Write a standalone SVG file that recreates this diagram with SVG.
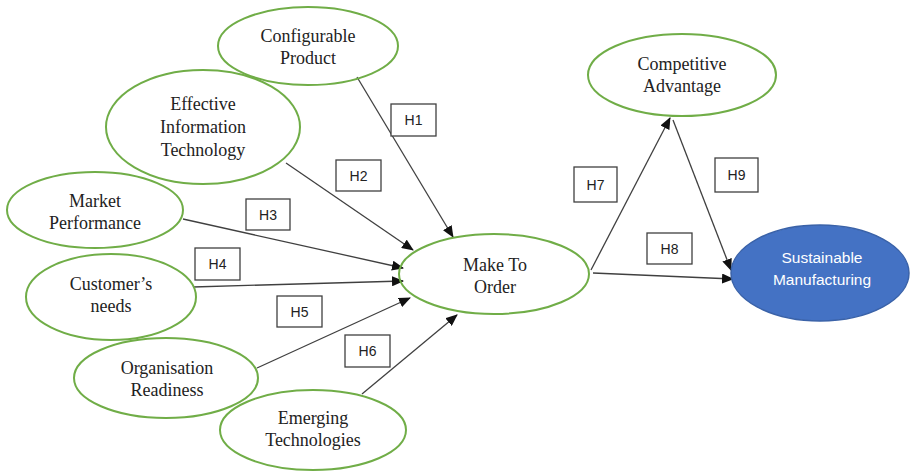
<svg xmlns="http://www.w3.org/2000/svg" width="910" height="471" viewBox="0 0 910 471">
<style>
.n ellipse{fill:none;stroke:#70AD47;stroke-width:2}
.n text{font-family:"Liberation Serif","Times New Roman",serif;font-size:18px;fill:#222;text-anchor:middle}
#sm ellipse{fill:#4472C4;stroke:#3A62A8;stroke-width:1.5}
#sm text{font-family:"Liberation Sans",Arial,sans-serif;font-size:15.5px;fill:#fff;text-anchor:middle}
.c line{stroke:#404040;stroke-width:1.3;marker-end:url(#ah)}
.lb rect{fill:#fff;stroke:#404040;stroke-width:1.3}
.lb text{font-family:"Liberation Sans",Arial,sans-serif;font-size:14px;fill:#222;text-anchor:middle}
</style>
<defs>
<marker id="ah" markerUnits="userSpaceOnUse" markerWidth="12" markerHeight="10" refX="11" refY="5" orient="auto">
<path d="M0,0 L12,5 L0,10 Z" fill="#111"/>
</marker>
</defs>
<rect width="910" height="471" fill="#fff"/>
<g class="c" id="connectors">
<line x1="357" y1="77" x2="453" y2="237"/>
<line x1="286" y1="163" x2="413" y2="250"/>
<line x1="183" y1="219" x2="403" y2="268"/>
<line x1="193" y1="287" x2="403" y2="281"/>
<line x1="257" y1="368" x2="410" y2="298"/>
<line x1="362" y1="394" x2="457" y2="315"/>
<line x1="591" y1="270" x2="670" y2="118"/>
<line x1="593" y1="273" x2="733" y2="279"/>
<line x1="673" y1="120" x2="731" y2="270"/>
</g>
<g id="configurable" class="n"><ellipse cx="308" cy="46" rx="90" ry="39"/><text x="308" y="42">Configurable</text><text x="308" y="64">Product</text></g>
<g id="eit" class="n"><ellipse cx="203" cy="127" rx="97" ry="57"/><text x="203" y="110">Effective</text><text x="203" y="133">Information</text><text x="203" y="156">Technology</text></g>
<g id="market" class="n"><ellipse cx="95" cy="210" rx="88" ry="38"/><text x="95" y="207">Market</text><text x="95" y="229">Performance</text></g>
<g id="customer" class="n"><ellipse cx="111" cy="297" rx="85" ry="43"/><text x="111" y="290">Customer’s</text><text x="111" y="312">needs</text></g>
<g id="organisation" class="n"><ellipse cx="166" cy="378" rx="92" ry="40"/><text x="167" y="374">Organisation</text><text x="167" y="396">Readiness</text></g>
<g id="emerging" class="n"><ellipse cx="313" cy="430" rx="93" ry="40"/><text x="313" y="424">Emerging</text><text x="313" y="446">Technologies</text></g>
<g id="mto" class="n"><ellipse cx="494" cy="274" rx="95" ry="40"/><text x="495" y="271">Make To</text><text x="495" y="293">Order</text></g>
<g id="competitive" class="n"><ellipse cx="682" cy="75" rx="94" ry="41"/><text x="682" y="70">Competitive</text><text x="682" y="92">Advantage</text></g>
<g id="sm"><ellipse cx="820" cy="273" rx="89" ry="48"/><text x="822" y="263">Sustainable</text><text x="822" y="285">Manufacturing</text></g>
<g class="lb" id="labels">
<g id="h1"><rect x="391" y="104" width="45" height="32"/><text x="413.5" y="125">H1</text></g>
<g id="h2"><rect x="336" y="160" width="45" height="31"/><text x="358.5" y="180.5">H2</text></g>
<g id="h3"><rect x="246" y="199" width="44" height="31"/><text x="268" y="219.5">H3</text></g>
<g id="h4"><rect x="195" y="248" width="45" height="32"/><text x="217.5" y="269">H4</text></g>
<g id="h5"><rect x="277" y="296" width="45" height="31"/><text x="299.5" y="316.5">H5</text></g>
<g id="h6"><rect x="345" y="335" width="45" height="32"/><text x="367.5" y="356">H6</text></g>
<g id="h7"><rect x="574" y="167" width="43" height="35"/><text x="595.5" y="189.5">H7</text></g>
<g id="h8"><rect x="647" y="233" width="45" height="31"/><text x="669.5" y="253.5">H8</text></g>
<g id="h9"><rect x="715" y="158" width="43" height="34"/><text x="736.5" y="180">H9</text></g>
</g>
</svg>
